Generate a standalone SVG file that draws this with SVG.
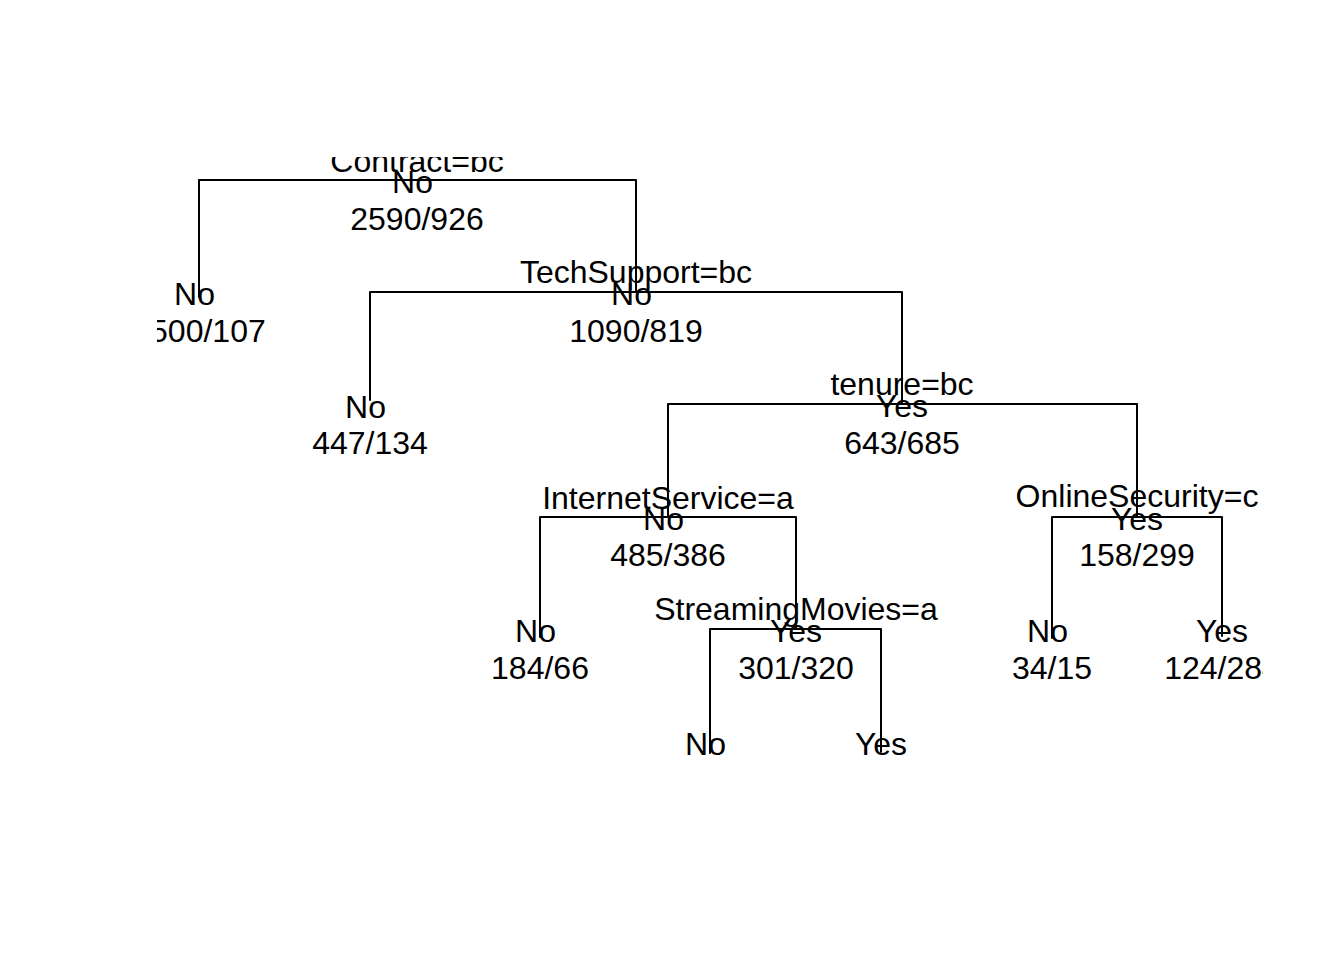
<svg xmlns="http://www.w3.org/2000/svg" width="1344" height="960" viewBox="0 0 1344 960">
<defs>
<style>
text{font-family:"Liberation Sans",Arial,Helvetica,sans-serif;font-size:32px;fill:#000;text-anchor:middle}
.edge{fill:none;stroke:#000;stroke-width:2;stroke-linecap:round;stroke-linejoin:round}
</style>
<clipPath id="plot"><rect x="157" y="157" width="1106" height="607"/></clipPath>
</defs>
<rect width="1344" height="960" fill="#fff"/>
<g clip-path="url(#plot)">
<g id="connectors">
<path class="edge" d="M417,180 H199 V297"/>
<path class="edge" d="M417,180 H636 V292"/>
<path class="edge" d="M636,292 H370 V400"/>
<path class="edge" d="M636,292 H902 V404"/>
<path class="edge" d="M902,404 H668 V517"/>
<path class="edge" d="M902,404 H1137 V517"/>
<path class="edge" d="M668,517 H540 V637"/>
<path class="edge" d="M668,517 H796 V629"/>
<path class="edge" d="M796,629 H710 V753"/>
<path class="edge" d="M796,629 H881 V752"/>
<path class="edge" d="M1137,517 H1052 V638"/>
<path class="edge" d="M1137,517 H1222 V636"/>
</g>
<g id="node-root">
<text x="417" y="172">Contract=bc</text>
<text x="412.5" y="193">No</text>
<text x="417" y="230">2590/926</text>
</g>
<g id="leaf-2">
<text x="194.5" y="305">No</text>
<text x="199" y="342">1500/107</text>
</g>
<g id="node-techsupport">
<text x="636" y="283">TechSupport=bc</text>
<text x="631.5" y="305">No</text>
<text x="636" y="342">1090/819</text>
</g>
<g id="leaf-6">
<text x="365.5" y="418">No</text>
<text x="370" y="454">447/134</text>
</g>
<g id="node-tenure">
<text x="902" y="395">tenure=bc</text>
<text x="902" y="417">Yes</text>
<text x="902" y="454">643/685</text>
</g>
<g id="node-internetservice">
<text x="668" y="509">InternetService=a</text>
<text x="663.5" y="530">No</text>
<text x="668" y="566">485/386</text>
</g>
<g id="leaf-internet-no">
<text x="535.5" y="642">No</text>
<text x="540" y="679">184/66</text>
</g>
<g id="node-streamingmovies">
<text x="796" y="620">StreamingMovies=a</text>
<text x="796" y="642">Yes</text>
<text x="796" y="679">301/320</text>
</g>
<g id="leaf-streaming-no">
<text x="705.5" y="755">No</text>
</g>
<g id="leaf-streaming-yes">
<text x="881" y="755">Yes</text>
</g>
<g id="node-onlinesecurity">
<text x="1137" y="507">OnlineSecurity=c</text>
<text x="1137" y="530">Yes</text>
<text x="1137" y="566">158/299</text>
</g>
<g id="leaf-online-no">
<text x="1047.5" y="642">No</text>
<text x="1052" y="679">34/15</text>
</g>
<g id="leaf-online-yes">
<text x="1222" y="642">Yes</text>
<text x="1222" y="679">124/284</text>
</g>
</g>
</svg>
